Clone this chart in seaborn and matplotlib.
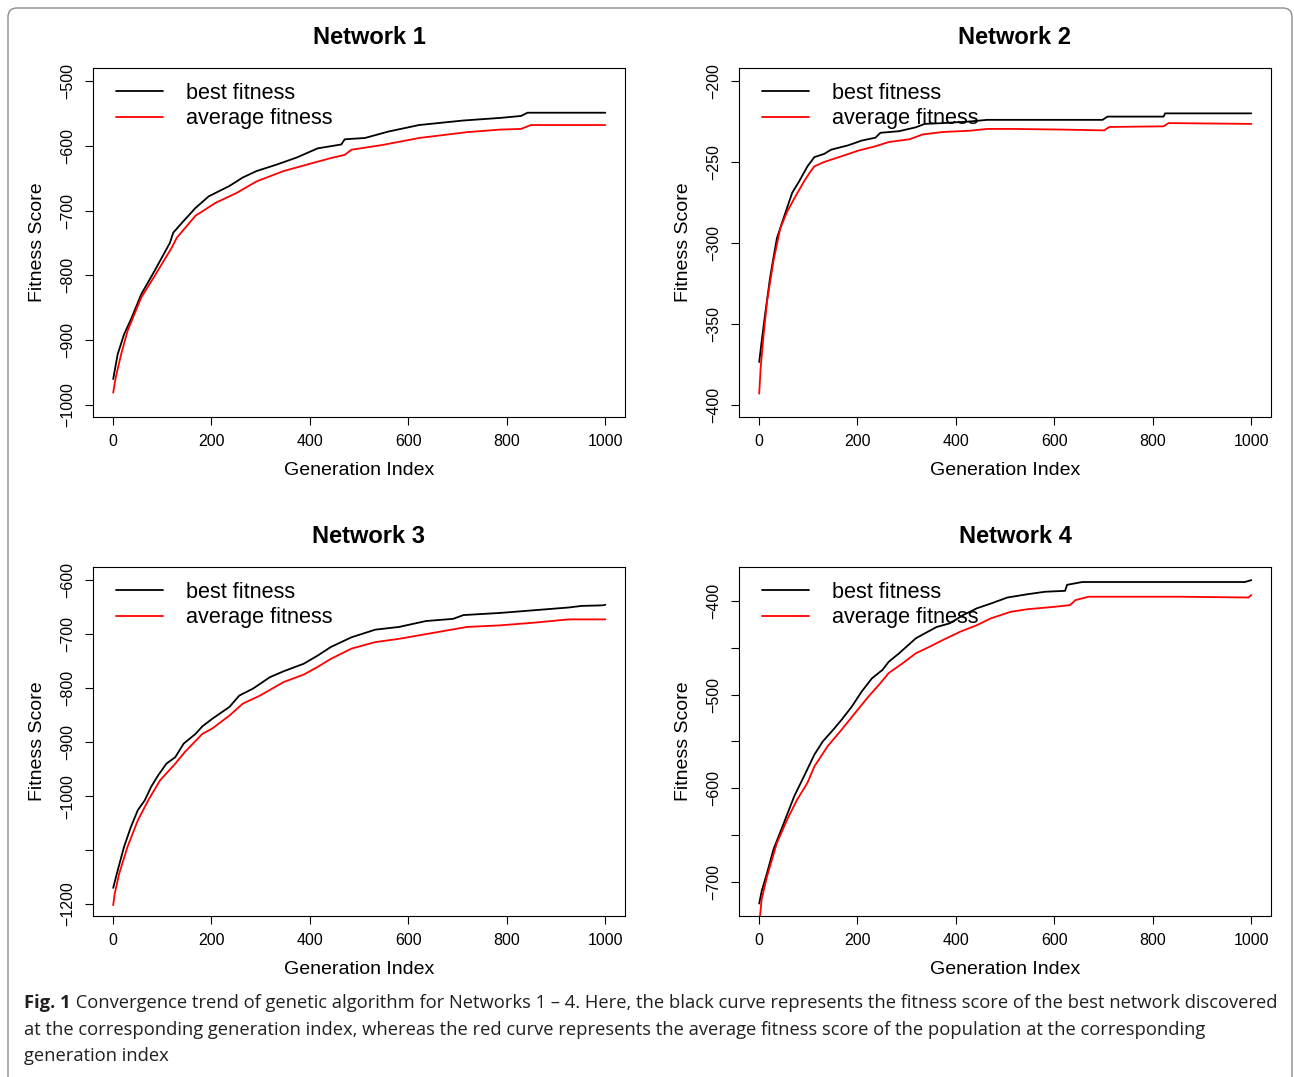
import numpy as np
import pandas as pd
import matplotlib
matplotlib.use("Agg")
import matplotlib.pyplot as plt
import matplotlib.transforms as mtransforms
from matplotlib.patches import FancyBboxPatch
import seaborn as sns

sns.set_style("ticks")
plt.rcParams["font.family"] = ["Liberation Sans", "DejaVu Sans"]
plt.rcParams.update({
    "text.color": "black",
    "axes.labelcolor": "black",
    "xtick.color": "black",
    "ytick.color": "black",
})

W, H = 1294, 1077

# ── Data (generation index, fitness score) ───────────────────────────────────

# Network 1
n1_best_gen = [1, 10, 23, 37, 58, 85, 116, 123, 144, 168, 195, 237, 264, 292, 333,
               374, 416, 464, 471, 512, 560, 622, 712, 787, 829, 842, 1000]
n1_best = [-960, -922, -891, -868, -829, -793, -750, -734, -716, -696, -678, -662,
           -649, -639, -629, -618, -604, -598, -590, -588, -578, -568, -561, -557,
           -554, -549, -549]
n1_avg_gen = [1, 6, 17, 30, 58, 85, 120, 130, 168, 209, 251, 292, 347, 409, 443,
              471, 485, 546, 622, 719, 787, 829, 849, 925, 1000]
n1_avg = [-981, -958, -922, -886, -834, -801, -757, -742, -708, -688, -673, -655,
          -639, -626, -619, -614, -606, -599, -588, -579, -575, -574, -568, -568, -568]

# Network 2
n2_best_gen = [1, 6, 13, 23, 30, 37, 54, 68, 82, 99, 113, 133, 147, 182, 209, 237,
               247, 285, 319, 337, 374, 429, 464, 698, 708, 822, 825, 1000]
n2_best = [-373.5, -360.7, -344, -321.6, -309, -297, -281.5, -269, -262, -252.7,
           -247, -245, -242.4, -239.7, -236.8, -235, -232, -231, -228.6, -226.5,
           -226, -225, -224, -224, -222, -222, -220, -220]
n2_avg_gen = [1, 4, 10, 17, 30, 44, 58, 75, 92, 103, 113, 133, 168, 202, 237, 264,
              306, 333, 374, 429, 464, 512, 615, 701, 712, 822, 832, 1000]
n2_avg = [-393, -377, -356.6, -336, -311, -290.7, -280.5, -271, -262, -256.8,
          -252.7, -250, -246.5, -243, -240.3, -237.7, -236, -233, -231.5, -230.7,
          -229.6, -229.6, -230, -230.5, -228.4, -228, -226, -226.5]

# Network 3
n3_best_gen = [1, 10, 23, 37, 51, 65, 78, 92, 109, 127, 144, 168, 182, 202, 237,
               257, 285, 319, 347, 388, 416, 443, 485, 533, 581, 636, 691, 712,
               787, 856, 925, 952, 994, 1000]
n3_best = [-1170, -1138, -1094, -1057, -1026, -1008, -983, -962, -940, -928, -903,
           -885, -871, -857, -835, -814, -801, -780, -769, -755, -740, -724, -706,
           -692, -687, -676, -672, -665, -661, -656, -651, -648, -647, -646]
n3_avg_gen = [1, 4, 13, 30, 51, 72, 96, 127, 147, 182, 202, 237, 264, 299, 347,
              388, 416, 443, 485, 533, 581, 650, 719, 787, 856, 925, 1000]
n3_avg = [-1202, -1181, -1144, -1094, -1045, -1008, -971, -940, -918, -885, -875,
          -851, -829, -814, -789, -775, -761, -746, -727, -715, -709, -698, -687,
          -684, -679, -673, -673]

# Network 4
n4_best_gen = [1, 6, 17, 30, 51, 72, 92, 113, 130, 151, 168, 189, 209, 230, 251,
               264, 285, 319, 337, 361, 388, 416, 443, 471, 505, 546, 581, 622,
               626, 657, 987, 1000]
n4_best = [-722.7, -709.6, -690, -665, -637, -608.5, -587, -564, -550, -537.6,
           -527, -512.8, -496.8, -482.6, -473.8, -465, -456, -440, -434.8, -428,
           -424, -415, -408, -403, -396.5, -393, -390.4, -389.4, -383, -380, -380,
           -378]
n4_avg_gen = [1, 6, 17, 37, 58, 78, 99, 113, 140, 168, 195, 223, 244, 264, 292,
              319, 347, 374, 409, 443, 471, 512, 546, 601, 632, 643, 670, 719, 856,
              994, 1000]
n4_avg = [-745, -718, -693.6, -658, -633, -612, -594, -576.6, -555, -537.6, -520,
          -502, -489.7, -477, -466.7, -456, -449, -441.8, -433, -426, -418.8,
          -411.7, -409, -406.4, -404.6, -399.3, -395.7, -395.7, -395.7, -396.5,
          -394]

titles = ["Network 1", "Network 2", "Network 3", "Network 4"]
ylims = [(-1018.5, -480), (-407.4, -192), (-1222, -576), (-736, -364)]
yticks = [[-1000, -900, -800, -700, -600, -500],
          [-400, -350, -300, -250, -200],
          [-1200, -1100, -1000, -900, -800, -700, -600],
          [-700, -650, -600, -550, -500, -450, -400]]
ytick_labels = [["\u22121000", "\u2212900", "\u2212800", "\u2212700", "\u2212600", "\u2212500"],
                ["\u2212400", "\u2212350", "\u2212300", "\u2212250", "\u2212200"],
                ["\u22121200", "", "\u22121000", "\u2212900", "\u2212800", "\u2212700", "\u2212600"],
                ["\u2212700", "", "\u2212600", "", "\u2212500", "", "\u2212400"]]
xticks = [0, 200, 400, 600, 800, 1000]

series = [(n1_best_gen, n1_best, n1_avg_gen, n1_avg),
          (n2_best_gen, n2_best, n2_avg_gen, n2_avg),
          (n3_best_gen, n3_best, n3_avg_gen, n3_avg),
          (n4_best_gen, n4_best, n4_avg_gen, n4_avg)]

# axes boxes in pixels: left, top
boxes = [(93, 68), (739, 68), (93, 567), (739, 567)]
BW, BH = 532, 349

fig = plt.figure(figsize=(W / 100, H / 100), dpi=100)

for i in range(4):
    left, top = boxes[i]
    ax = fig.add_axes([left / W, 1 - (top + BH) / H, BW / W, BH / H])
    bg, b, ag, a = series[i]
    df = pd.concat([
        pd.DataFrame({"gen": bg, "fitness": b, "series": "best fitness"}),
        pd.DataFrame({"gen": ag, "fitness": a, "series": "average fitness"}),
    ])
    sns.lineplot(data=df, x="gen", y="fitness", hue="series",
                 palette={"best fitness": "black", "average fitness": "#ff0000"},
                 estimator=None, sort=False, linewidth=1.3, ax=ax)

    ax.set_xlim(-40, 1040)
    ax.set_ylim(*ylims[i])
    ax.set_xticks(xticks)
    ax.set_xticklabels([str(t) for t in xticks])
    ax.set_yticks(yticks[i])
    ax.set_yticklabels(ytick_labels[i])
    for lab in ax.get_yticklabels():
        lab.set_rotation(90)
        lab.set_va("center")
    ax.tick_params(length=5.5, width=0.8, pad=7, labelsize=11.5, color="black")
    for sp in ax.spines.values():
        sp.set_visible(True)
        sp.set_color("black")
        sp.set_linewidth(0.8)

    ax.set_xlabel("Generation Index", fontsize=14)
    ax.set_ylabel("Fitness Score", fontsize=14)
    ax.xaxis.set_label_coords(0.5, -(462 - 417) / BH)
    ax.yaxis.set_label_coords((46 - 93) / BW, 0.5)

    handles, labels = ax.get_legend_handles_labels()
    ax.legend(handles, labels, loc="upper left", frameon=False, fontsize=15.6,
              bbox_to_anchor=(23 / BW, 1 - 15 / BH), borderaxespad=0, borderpad=0,
              handlelength=2.15, handletextpad=1.1, labelspacing=0.2)

    fig.text((left + BW / 2 + 10) / W, 1 - (top - 24) / H, titles[i],
             ha="center", va="baseline", fontsize=17, fontweight="bold", color="black")

# rounded frame around the figure (open at the bottom)
frame = FancyBboxPatch((8, -40), 1284, 1069 + 40, boxstyle="round,pad=0,rounding_size=9",
                       fill=False, edgecolor="#8c8c8c", linewidth=1.0,
                       transform=mtransforms.IdentityTransform())
fig.patches.append(frame)

# caption
cap_font = ["Open Sans", "DejaVu Sans"]
cap_size = 13.2
cap_color = "#231f20"
cap_lines = [
    " Convergence trend of genetic algorithm for Networks 1 \u2013 4. Here, the black curve represents the fitness score of the best network discovered",
    "at the corresponding generation index, whereas the red curve represents the average fitness score of the population at the corresponding",
    "generation index",
]
cap_y = [1003, 1030, 1056]

bold = fig.text(24 / W, 1 - cap_y[0] / H, "Fig. 1", family=cap_font, fontsize=cap_size,
                fontweight="bold", color=cap_color, va="center", ha="left")
fig.canvas.draw()
bb = bold.get_window_extent(renderer=fig.canvas.get_renderer())
fig.text(bb.x1 / W, 1 - cap_y[0] / H, cap_lines[0], family=cap_font, fontsize=cap_size,
         color=cap_color, va="center", ha="left")
for line, y in zip(cap_lines[1:], cap_y[1:]):
    fig.text(24 / W, 1 - y / H, line, family=cap_font, fontsize=cap_size,
             color=cap_color, va="center", ha="left")

fig.savefig("out.png", dpi=100)
